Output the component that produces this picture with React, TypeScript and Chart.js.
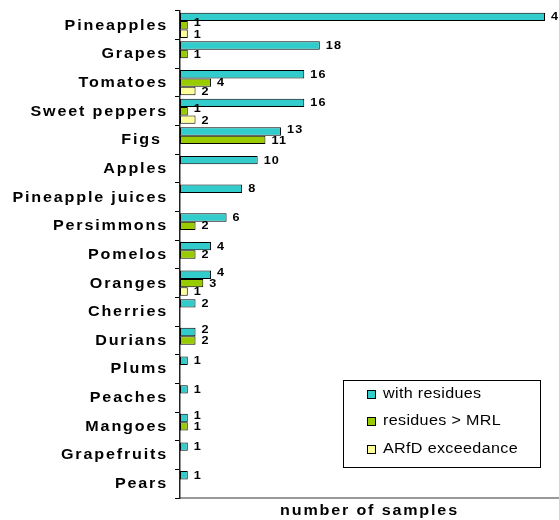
import React, { useEffect, useRef } from "react";
import { Chart, registerables } from "chart.js";

Chart.register(...registerables);

const FONT = "'Liberation Sans', Arial, sans-serif";
const STRETCH = 1.15;

const categories = [
  "Pineapples",
  "Grapes",
  "Tomatoes",
  "Sweet peppers",
  "Figs ",
  "Apples",
  "Pineapple juices",
  "Persimmons",
  "Pomelos",
  "Oranges",
  "Cherries",
  "Durians",
  "Plums",
  "Peaches",
  "Mangoes",
  "Grapefruits",
  "Pears",
];

const withResidues = [47, 18, 16, 16, 13, 10, 8, 6, 4, 4, 2, 2, 1, 1, 1, 1, 1];
const aboveMRL = [1, 1, 4, 1, 11, 0, 0, 2, 2, 3, 0, 2, 0, 0, 1, 0, 0];
const arfdExceedance = [1, 0, 2, 2, 0, 0, 0, 0, 0, 1, 0, 0, 0, 0, 0, 0, 0];

const seriesNames = ["with residues", "residues > MRL", "ARfD exceedance"];
const seriesColors = ["#33CCCC", "#99CC00", "#FFFF99"];
const seriesValues = [withResidues, aboveMRL, arfdExceedance];

const xAxisTitle = "number of samples";
const xMin = 0;
const xMax = 48.8;

const origFillText = CanvasRenderingContext2D.prototype.fillText;

function stretchText(ctx: any, sx: number) {
  ctx.fillText = function (text: string, x: number, y: number) {
    this.save();
    this.translate(x, y);
    this.scale(sx, 1);
    origFillText.call(this, text, 0, 0);
    this.restore();
  };
}

function unstretchText(ctx: any) {
  delete ctx.fillText;
}

const spacingPlugin = {
  id: "spacing",
  beforeDraw(chart: any) {
    (chart.ctx as any).letterSpacing = "1.6px";
    stretchText(chart.ctx, STRETCH);
  },
  beforeDatasetsDraw(chart: any) {
    (chart.ctx as any).letterSpacing = "0px";
    unstretchText(chart.ctx);
  },
  afterDraw(chart: any) {
    (chart.ctx as any).letterSpacing = "0px";
    unstretchText(chart.ctx);
  },
};

const valueLabels = {
  id: "valueLabels",
  afterDatasetsDraw(chart: any) {
    const ctx = chart.ctx;
    ctx.save();
    (ctx as any).letterSpacing = "1px";
    ctx.font = `bold 11px ${FONT}`;
    ctx.fillStyle = "#000";
    ctx.textAlign = "left";
    ctx.textBaseline = "middle";
    const n = chart.data.labels.length;
    for (let i = 0; i < n; i++) {
      const items: { text: string; x: number; y: number; w: number }[] = [];
      chart.data.datasets.forEach((ds: any, di: number) => {
        const v = ds.data[i];
        if (v == null || v === 0) return;
        const el = chart.getDatasetMeta(di).data[i];
        const text = String(v);
        const w = ctx.measureText(text).width * STRETCH;
        items.push({ text, x: el.x + 6, y: el.y + 0.5, w });
      });
      const shifts = items.map(() => 0);
      for (let k = 0; k < items.length - 1; k++) {
        const a = items[k];
        const b = items[k + 1];
        const overlapX = a.x < b.x + b.w && b.x < a.x + a.w;
        if (overlapX && b.y - a.y < 11) {
          shifts[k] -= 2.5;
          shifts[k + 1] += 0.5;
        }
      }
      stretchText(ctx, STRETCH);
      items.forEach((it, k) => ctx.fillText(it.text, it.x, it.y + shifts[k]));
      unstretchText(ctx);
    }
    ctx.restore();
  },
};

const boxLegend = {
  id: "boxLegend",
  afterDraw(chart: any) {
    const { ctx, chartArea } = chart;
    const w = 197;
    const h = 87;
    const x0 = Math.round(chartArea.right - 19 - w);
    const y0 = Math.round(chartArea.bottom - 31 - h);
    ctx.save();
    ctx.fillStyle = "#fff";
    ctx.fillRect(x0, y0, w, h);
    ctx.strokeStyle = "#000";
    ctx.lineWidth = 1;
    ctx.strokeRect(x0 + 0.5, y0 + 0.5, w, h);
    (ctx as any).letterSpacing = "0.3px";
    ctx.font = `14px ${FONT}`;
    ctx.textBaseline = "middle";
    ctx.textAlign = "left";
    seriesNames.forEach((name, i) => {
      const cy = y0 + 13.5 + i * 27.5;
      const by = Math.round(cy - 4);
      ctx.fillStyle = seriesColors[i];
      ctx.fillRect(x0 + 24, by, 8, 8);
      ctx.strokeStyle = "#000";
      ctx.strokeRect(x0 + 24.5, by + 0.5, 8, 8);
      ctx.fillStyle = "#000";
      stretchText(ctx, STRETCH);
      ctx.fillText(name, x0 + 40, cy + 0.5);
      unstretchText(ctx);
    });
    ctx.restore();
  },
};

export default function App() {
  const canvasRef = useRef<HTMLCanvasElement | null>(null);

  useEffect(() => {
    if (!canvasRef.current) return;
    const chart = new Chart(canvasRef.current, {
      type: "bar",
      data: {
        labels: categories,
        datasets: seriesNames.map((name, i) => ({
          label: name,
          data: seriesValues[i].map((v) => (v === 0 ? null : v)),
          backgroundColor: seriesColors[i],
          borderColor: "#000",
          borderWidth: 1,
          borderSkipped: false,
          categoryPercentage: 0.88,
          barPercentage: 1,
        })),
      },
      options: {
        indexAxis: "y",
        responsive: false,
        animation: false,
        devicePixelRatio: 1,
        layout: { padding: { top: 11, right: 0, left: 0, bottom: 0 } },
        plugins: {
          legend: { display: false },
          tooltip: { enabled: false },
          title: { display: false },
        },
        scales: {
          x: {
            min: xMin,
            max: xMax,
            ticks: { display: false },
            grid: { display: false, drawTicks: false },
            border: { display: true, color: "#999", width: 2 },
            title: {
              display: true,
              text: xAxisTitle,
              color: "#000",
              font: { family: FONT, size: 14, weight: "bold" },
              padding: { top: 0, bottom: 0 },
            },
            afterFit: (s: any) => {
              s.height = 22;
              s.paddingLeft = 0;
              s.paddingRight = 0;
            },
          },
          y: {
            ticks: {
              color: "#000",
              font: { family: FONT, size: 14, weight: "bold" },
              padding: 7,
              labelOffset: 0.5,
              autoSkip: false,
            },
            grid: {
              drawOnChartArea: false,
              drawTicks: true,
              tickLength: 5,
              color: "#000",
              offset: true,
            },
            border: { display: true, color: "#222", width: 1.5 },
            afterFit: (s: any) => {
              s.width = 180;
              s.paddingTop = 0;
              s.paddingBottom = 0;
            },
          },
        },
      } as any,
      plugins: [spacingPlugin, valueLabels, boxLegend],
    });
    return () => chart.destroy();
  }, []);

  return (
    <div style={{ position: "fixed", left: 0, top: 0, width: 559, height: 520, background: "#fff" }}>
      <canvas ref={canvasRef} width={559} height={520} style={{ display: "block", width: 559, height: 520 }} />
    </div>
  );
}
